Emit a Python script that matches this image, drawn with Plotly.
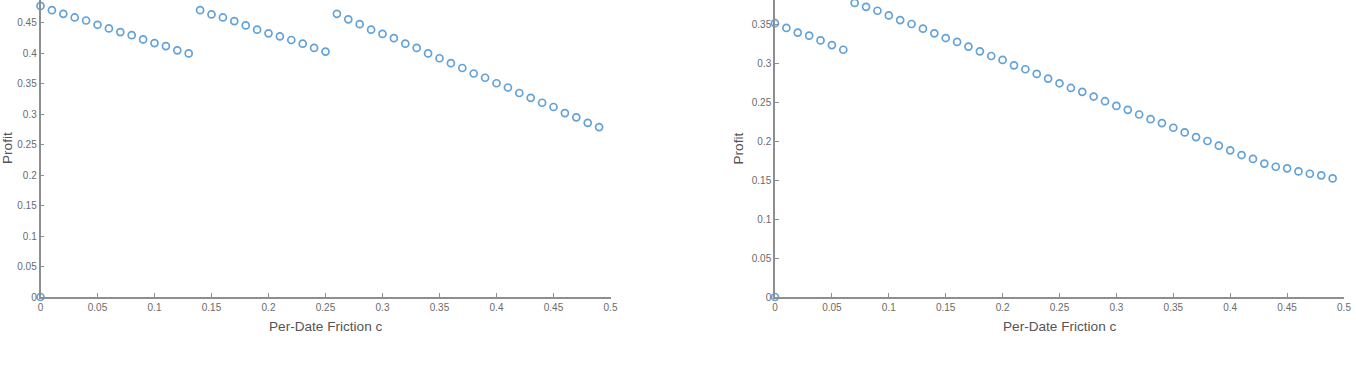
import plotly.graph_objects as go

# ---- data ----
friction_c = [0.00, 0.01, 0.02, 0.03, 0.04, 0.05, 0.06, 0.07, 0.08, 0.09,
              0.10, 0.11, 0.12, 0.13, 0.14, 0.15, 0.16, 0.17, 0.18, 0.19,
              0.20, 0.21, 0.22, 0.23, 0.24, 0.25, 0.26, 0.27, 0.28, 0.29,
              0.30, 0.31, 0.32, 0.33, 0.34, 0.35, 0.36, 0.37, 0.38, 0.39,
              0.40, 0.41, 0.42, 0.43, 0.44, 0.45, 0.46, 0.47, 0.48, 0.49]

left_x = [0.00] + friction_c
left_profit = [0.0,
               0.478, 0.471, 0.465, 0.459, 0.454, 0.447, 0.441, 0.435, 0.430, 0.423,
               0.417, 0.412, 0.405, 0.400,
               0.471, 0.464, 0.459, 0.453, 0.446, 0.439, 0.433, 0.428, 0.422, 0.416,
               0.409, 0.403,
               0.465, 0.456, 0.448, 0.439, 0.432, 0.425, 0.416, 0.409, 0.400, 0.392,
               0.384, 0.376, 0.367, 0.360, 0.351, 0.344, 0.335, 0.327, 0.319, 0.312,
               0.302, 0.295, 0.286, 0.279]

right_x = [0.00] + friction_c
right_profit = [0.0,
                0.351, 0.345, 0.339, 0.335, 0.329, 0.323, 0.317,
                0.377, 0.372, 0.367, 0.361, 0.355, 0.350, 0.344, 0.338, 0.332, 0.327,
                0.321, 0.315, 0.309, 0.304, 0.297, 0.292, 0.286, 0.280, 0.274, 0.268,
                0.263, 0.257,
                0.251, 0.245, 0.240, 0.234, 0.228, 0.223, 0.217, 0.211, 0.205, 0.200,
                0.194, 0.188, 0.182, 0.177, 0.171, 0.167, 0.165, 0.161, 0.158, 0.156,
                0.152]

x_ticks = [0, 0.05, 0.1, 0.15, 0.2, 0.25, 0.3, 0.35, 0.4, 0.45, 0.5]
x_tick_text = ["0", "0.05", "0.1", "0.15", "0.2", "0.25", "0.3", "0.35", "0.4", "0.45", "0.5"]
left_y_ticks = [0, 0.05, 0.1, 0.15, 0.2, 0.25, 0.3, 0.35, 0.4, 0.45]
left_y_tick_text = ["0", "0.05", "0.1", "0.15", "0.2", "0.25", "0.3", "0.35", "0.4", "0.45"]
right_y_ticks = [0, 0.05, 0.1, 0.15, 0.2, 0.25, 0.3, 0.35]
right_y_tick_text = ["0", "0.05", "0.1", "0.15", "0.2", "0.25", "0.3", "0.35"]

x_title = "Per-Date Friction c"
y_title = "Profit"

# ---- layout geometry ----
W, H = 1356, 375
plot_bottom = 297  # pixel row of y=0
LEFT_DOM = [40.5 / W, 610.5 / W]
RIGHT_DOM = [775 / W, 1344 / W]

marker_color = "#62a2d8"
axis_color = "#8e8e8e"
tick_font = dict(family="Liberation Sans, Arial, sans-serif", size=10, color="#6a6a6a")
title_font = dict(family="Liberation Sans, Arial, sans-serif", size=13.6, color="#555555")

fig = go.Figure()
marker = dict(symbol="circle-open", size=7, color=marker_color, line=dict(width=1.7, color=marker_color))
fig.add_trace(go.Scatter(x=left_x, y=left_profit, mode="markers", marker=marker,
                         xaxis="x", yaxis="y", cliponaxis=False, showlegend=False))
fig.add_trace(go.Scatter(x=right_x, y=right_profit, mode="markers", marker=marker,
                         xaxis="x2", yaxis="y2", cliponaxis=False, showlegend=False))

common_axis = dict(showgrid=False, zeroline=False, showline=True, linecolor=axis_color,
                   linewidth=1.5, ticks="inside", ticklen=4, tickcolor=axis_color,
                   tickwidth=1, tickfont=tick_font, mirror=False, automargin=False)

fig.update_layout(
    width=W, height=H,
    margin=dict(l=0, r=0, t=0, b=H - plot_bottom, autoexpand=False),
    paper_bgcolor="white", plot_bgcolor="white",
    xaxis=dict(domain=LEFT_DOM, range=[0, 0.5], tickvals=x_ticks, ticktext=x_tick_text,
               anchor="y", **common_axis),
    yaxis=dict(domain=[0, 1], range=[0, 297 / 609.0], tickvals=left_y_ticks,
               ticktext=left_y_tick_text, anchor="x", **common_axis),
    xaxis2=dict(domain=RIGHT_DOM, range=[0, 0.5], tickvals=x_ticks, ticktext=x_tick_text,
                anchor="y2", **common_axis),
    yaxis2=dict(domain=[0, 1], range=[0, 297 / 780.0], tickvals=right_y_ticks,
                ticktext=right_y_tick_text, anchor="x2", **common_axis),
)

title_y = (plot_bottom - 326) / plot_bottom
for dom, offset in ((LEFT_DOM, 33), (RIGHT_DOM, 37)):
    fig.add_annotation(text=x_title, xref="paper", yref="paper",
                       x=(dom[0] + dom[1]) / 2, y=title_y, xanchor="center", yanchor="middle",
                       showarrow=False, font=title_font)
    fig.add_annotation(text=y_title, xref="paper", yref="paper",
                       x=dom[0] - offset / W, y=0.5, xanchor="center", yanchor="middle",
                       textangle=-90, showarrow=False, font=title_font)

fig.write_html("out.html")
